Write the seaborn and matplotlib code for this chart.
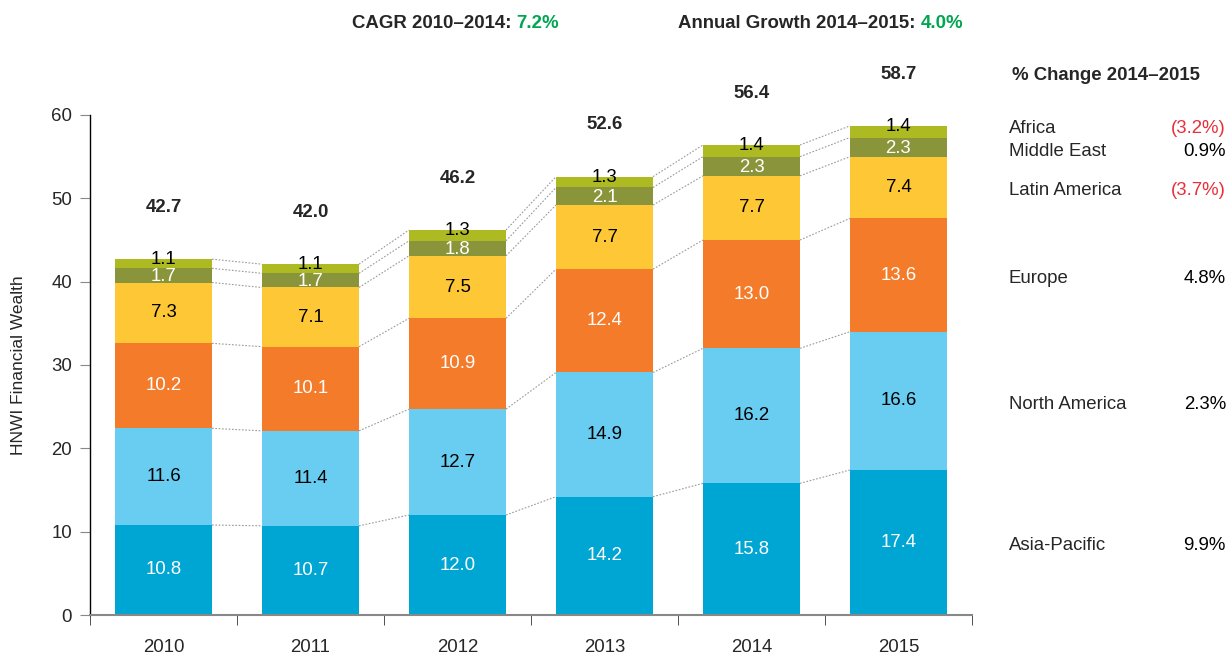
import matplotlib
matplotlib.use("Agg")
import matplotlib.pyplot as plt
import matplotlib.transforms as mtransforms
import numpy as np
import seaborn as sns

years = ["2010", "2011", "2012", "2013", "2014", "2015"]
regions = ["Asia-Pacific", "North America", "Europe", "Latin America", "Middle East", "Africa"]
asia_pacific = [10.8, 10.7, 12.0, 14.2, 15.8, 17.4]
north_america = [11.6, 11.4, 12.7, 14.9, 16.2, 16.6]
europe = [10.2, 10.1, 10.9, 12.4, 13.0, 13.6]
latin_america = [7.3, 7.1, 7.5, 7.7, 7.7, 7.4]
middle_east = [1.7, 1.7, 1.8, 2.1, 2.3, 2.3]
africa = [1.1, 1.1, 1.3, 1.3, 1.4, 1.4]
totals = ["42.7", "42.0", "46.2", "52.6", "56.4", "58.7"]
pct_change = ["9.9%", "2.3%", "4.8%", "(3.7%)", "0.9%", "(3.2%)"]

series = [asia_pacific, north_america, europe, latin_america, middle_east, africa]
colors = ["#00A6D3", "#68CDF1", "#F47B2A", "#FDC735", "#8A953B", "#AEBA22"]
text_colors = ["white", "black", "white", "black", "white", "black"]

sns.set_style("white")
plt.rcParams["font.family"] = ["Liberation Sans", "DejaVu Sans"]
fs = 13.4

fig = plt.figure(figsize=(12.27, 6.58), dpi=100)
ax = fig.add_axes([90 / 1227, 1 - 615 / 658, (972 - 90) / 1227, 500 / 658])

w = 0.66
bottom = np.zeros(len(years))
tops = []
for vals, c, tc, name in zip(series, colors, text_colors, regions):
    vals = np.array(vals)
    sns.barplot(x=years, y=vals, bottom=bottom, color=c, width=w, saturation=1,
                errorbar=None, ax=ax, linewidth=0)
    for i, v in enumerate(vals):
        yc = bottom[i] + v / 2
        if name == "Africa":
            yc = bottom[i] + v - 0.1
        elif name == "Middle East":
            yc = bottom[i] + v * 0.42
        ax.text(i, yc, f"{v:.1f}", ha="center", va="center", color=tc, fontsize=fs)
    bottom = bottom + vals
    tops.append(bottom.copy())

# dotted connectors between bars
for top in tops:
    for i in range(len(years) - 1):
        ax.plot([i + w / 2, i + 1 - w / 2], [top[i], top[i + 1]], ls=(0, (1.5, 1.5)),
                color="#9a9a9a", lw=0.8, zorder=0.5)

# totals above bars
for i, t in enumerate(totals):
    ax.text(i, bottom[i] + 6.2, t, ha="center", va="center", fontsize=fs,
            fontweight="bold", clip_on=False)

ax.set_xlim(-0.5, 5.5)
ax.set_ylim(0, 60)
ax.set_yticks(range(0, 61, 10))
ax.set_ylabel("HNWI Financial Wealth", fontsize=12.5, labelpad=18)
ax.set_xlabel("")
ax.tick_params(axis="y", which="major", length=7, color="#888888", labelsize=fs, pad=6, left=True)
ax.tick_params(axis="x", which="major", length=0, labelsize=fs, pad=17)
ax.set_xticks(np.arange(-0.5, 6, 1), minor=True)
ax.tick_params(axis="x", which="minor", length=7, color="#333333", bottom=True)
for s in ["top", "right"]:
    ax.spines[s].set_visible(False)
ax.spines["left"].set_color("black")
ax.spines["left"].set_linewidth(1.0)
ax.spines["bottom"].set_color("#888888")
ax.spines["bottom"].set_linewidth(1.5)

# right side legend
label_y = [8.4, 25.3, 40.4, 50.9, 55.6, 58.4]
trans = mtransforms.blended_transform_factory(fig.transFigure, ax.transData)
for name, pc, yy in zip(regions, pct_change, label_y):
    ax.text(1009 / 1227, yy, name, transform=trans, ha="left", va="center", fontsize=fs, clip_on=False)
    ax.text(1226 / 1227, yy, pc, transform=trans, ha="right", va="center", fontsize=fs,
            color="#E8303A" if pc.startswith("(") else "black", clip_on=False)
fig.text(1012 / 1227, 1 - 76 / 658, "% Change 2014\u20132015", ha="left", va="center",
         fontsize=fs, fontweight="bold")

# header
green = "#00A650"
t1 = fig.text(352 / 1227, 1 - 23 / 658, "CAGR 2010\u20132014: ", ha="left", va="center",
              fontsize=fs, fontweight="bold")
ax.annotate("7.2%", xy=(1, 0), xycoords=t1, ha="left", va="bottom", fontsize=fs,
            fontweight="bold", color=green, annotation_clip=False)
t2 = fig.text(678 / 1227, 1 - 23 / 658, "Annual Growth 2014\u20132015: ", ha="left", va="center",
              fontsize=fs, fontweight="bold")
ax.annotate("4.0%", xy=(1, 0), xycoords=t2, ha="left", va="bottom", fontsize=fs,
            fontweight="bold", color=green, annotation_clip=False)

fig.savefig("out.png", dpi=100)
